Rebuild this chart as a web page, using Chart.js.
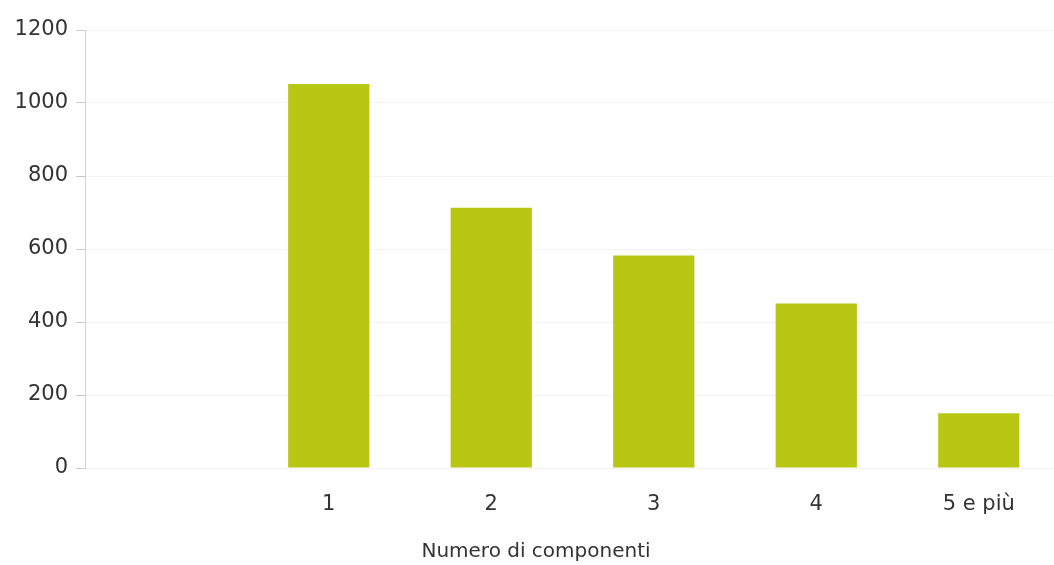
<!DOCTYPE html>
<html lang="it">
<head>
    <meta charset="UTF-8">
    <title>Numero di componenti</title>
    <script src="https://cdn.jsdelivr.net/npm/chart.js"></script>
    <style>
        html, body {
            margin: 0;
            padding: 0;
            background: #fff;
            overflow: hidden;
            width: 1054px;
            height: 565px;
        }
        .wrap {
            position: relative;
            width: 1064px;
            height: 565px;
        }
        .axis-title {
            position: absolute;
            left: 0;
            width: 1072px;
            top: 538px;
            text-align: center;
            font-family: "DejaVu Sans", sans-serif;
            font-size: 20px;
            color: #333;
        }
    </style>
</head>
<body>
    <div class="wrap">
        <canvas id="chart"></canvas>
        <div class="axis-title">Numero di componenti</div>
    </div>

    <script>
        // first slot is left empty on purpose
        const categories = ['', '1', '2', '3', '4', '5 e più'];
        const households = [null, 1052, 713, 582, 451, 150];
        const yTicks = [0, 200, 400, 600, 800, 1000, 1200];

        const barColor = '#b8c714';
        const tickFont = { family: '"DejaVu Sans", sans-serif', size: 21 };

        new Chart(document.getElementById('chart'), {
            type: 'bar',
            data: {
                labels: categories,
                datasets: [{
                    data: households,
                    backgroundColor: barColor,
                    borderWidth: 0,
                    barPercentage: 0.5,
                    categoryPercentage: 1
                }]
            },
            options: {
                responsive: true,
                maintainAspectRatio: false,
                animation: false,
                layout: { padding: { top: 30, right: 4, left: 0, bottom: 0 } },
                plugins: {
                    legend: { display: false },
                    tooltip: { enabled: false }
                },
                scales: {
                    x: {
                        grid: { display: false, drawTicks: false },
                        border: { display: false },
                        ticks: { padding: 24, color: '#333', font: tickFont },
                        afterFit: s => { s.height = 97; }
                    },
                    y: {
                        min: 0,
                        max: yTicks[yTicks.length - 1],
                        afterBuildTicks: s => { s.ticks = yTicks.map(v => ({ value: v })); },
                        grid: { color: '#f3f3f3', tickColor: '#c8c8c8', tickLength: 9 },
                        border: { color: '#d0d0d0' },
                        ticks: {
                            padding: 8,
                            color: '#333',
                            font: tickFont,
                            callback: v => String(v)
                        },
                        afterFit: s => { s.width = 85; }
                    }
                }
            }
        });
    </script>
</body>
</html>
